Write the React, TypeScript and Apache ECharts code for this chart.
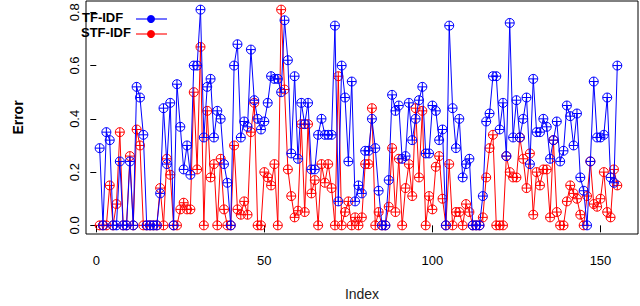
import React, { useEffect, useRef } from "react";
import * as echarts from "echarts";

const tfidf: number[] = [
  0.29, 0, 0.35, 0.32, 0, 0, 0.24, 0, 0, 0.24,
  0, 0.52, 0.48, 0.34, 0, 0, 0, 0, 0.12, 0.44,
  0.23, 0.46, 0, 0.53, 0.37, 0.21, 0.30, 0.19, 0.60, 0.60,
  0.81, 0.33, 0.52, 0.55, 0.33, 0.43, 0.40, 0.23, 0.16, 0,
  0.60, 0.68, 0.33, 0.39, 0.37, 0.66, 0.47, 0.40, 0.36, 0.39,
  0.46, 0.56, 0.55, 0.55, 0.50, 0.77, 0.62, 0.27, 0.56, 0.25,
  0.46, 0.38, 0.46, 0.21, 0.21, 0.34, 0.40, 0.34, 0.34, 0.34,
  0.75, 0.09, 0.60, 0.48, 0.24, 0.54, 0.09, 0.15, 0.12, 0.28,
  0.28, 0.40, 0.29, 0.13, 0, 0, 0.17, 0.49, 0.43, 0.45,
  0.25, 0.26, 0.46, 0.32, 0.40, 0.47, 0.52, 0.27, 0.27, 0.45,
  0.43, 0.32, 0.36, 0, 0.75, 0.44, 0.29, 0.40, 0.18, 0.23,
  0.25, 0, 0, 0, 0.11, 0.39, 0.42, 0.56, 0.56, 0.36,
  0.46, 0.26, 0.76, 0.33, 0.47, 0.33, 0.40, 0.48, 0.23, 0.55,
  0.35, 0.35, 0.40, 0.37, 0.25, 0.32, 0.39, 0.24, 0.28, 0.45,
  0.41, 0.30, 0.42, 0.18, 0.13, 0, 0.24, 0.54, 0.33, 0.33,
  0.34, 0.48, 0.18, 0.16, 0.60,
];

const stfidf: number[] = [
  0, 0, 0, 0.15, 0, 0.08, 0.35, 0, 0, 0.26,
  0, 0.36, 0.30, 0, 0, 0, 0, 0, 0.14, 0,
  0.25, 0.19, 0, 0, 0.06, 0.085, 0.06, 0.06, 0.50, 0.21,
  0.67, 0, 0.43, 0.18, 0.23, 0, 0.25, 0.06, 0, 0,
  0.30, 0.06, 0.04, 0.09, 0.04, 0.35, 0.46, 0, 0, 0.20,
  0.18, 0.15, 0.23, 0, 0.81, 0.51, 0.21, 0.11, 0.03, 0.055,
  0.38, 0.05, 0.38, 0.12, 0.17, 0, 0.23, 0.16, 0.23, 0.14,
  0, 0.56, 0, 0.05, 0.09, 0, 0.03, 0, 0.03, 0.23,
  0.23, 0.44, 0, 0.05, 0, 0, 0.07, 0.29, 0.05, 0.25,
  0, 0.14, 0.23, 0.11, 0.44, 0.18, 0.43, 0, 0.11, 0.06,
  0.22, 0.26, 0.10, 0, 0.23, 0, 0.05, 0.05, 0, 0.08,
  0.05, 0, 0, 0, 0.03, 0.18, 0.29, 0.34, 0, 0,
  0, 0.26, 0.20, 0.18, 0.18, 0.33, 0.25, 0.14, 0.27, 0.04,
  0.20, 0.15, 0.21, 0.21, 0.03, 0.32, 0.05, 0, 0, 0.09,
  0.15, 0.12, 0.10, 0.04, 0, 0.11, 0.24, 0.08, 0.07, 0.10,
  0.20, 0.05, 0.03, 0.21, 0.15,
];

const xTicks = [0, 50, 100, 150];
const yTicks = [0, 0.2, 0.4, 0.6, 0.8];
const seriesNames = ["TF-IDF", "STF-IDF"];
const seriesColors = ["#0000ff", "#ff0000"];

const CIRCLE_PLUS =
  "path://M0,-10A10,10,0,1,1,0,10A10,10,0,1,1,0,-10ZM-10,0L10,0M0,-10L0,10";

export default function App() {
  const ref = useRef<HTMLDivElement>(null);
  useEffect(() => {
    if (!ref.current) return;
    const chart = echarts.init(ref.current, null, { renderer: "svg" });
    const font = "'Liberation Sans', Arial, sans-serif";
    const mk = (name: string, vals: number[], color: string, z: number) => ({
      name,
      type: "line",
      data: vals.map((v, i) => [i + 1, v]),
      symbol: CIRCLE_PLUS,
      symbolSize: 9,
      z,
      lineStyle: { color, width: 1 },
      itemStyle: { color: "rgba(255,255,255,0)", borderColor: color, borderWidth: 1 },
      emphasis: { disabled: true },
    });
    chart.setOption({
      animation: false,
      backgroundColor: "#ffffff",
      grid: {
        left: 86,
        right: 2,
        top: 1,
        bottom: 62,
        show: true,
        borderColor: "#000",
        borderWidth: 1,
        backgroundColor: "transparent",
      },
      xAxis: {
        type: "value",
        min: -3.06,
        max: 161.16,
        name: "Index",
        nameLocation: "middle",
        nameGap: 53,
        nameTextStyle: { fontFamily: font, fontSize: 14, color: "#222" },
        axisLine: { show: false },
        axisTick: { show: true, length: 7, customValues: xTicks, lineStyle: { color: "#000" } },
        axisLabel: {
          customValues: xTicks,
          fontFamily: font,
          fontSize: 13,
          color: "#000",
          margin: 20,
        },
        splitLine: { show: false },
      },
      yAxis: {
        type: "value",
        min: -0.0324,
        max: 0.8424,
        name: "Error",
        nameLocation: "middle",
        nameGap: 61,
        nameTextStyle: { fontFamily: font, fontSize: 14, fontWeight: "bold", color: "#000" },
        axisLine: { show: false },
        axisTick: { show: true, length: 6, customValues: yTicks, lineStyle: { color: "#000" } },
        axisLabel: {
          customValues: yTicks,
          rotate: 90,
          fontFamily: font,
          fontSize: 13,
          color: "#000",
          margin: 5,
          formatter: (v: number) => v.toFixed(1),
        },
        splitLine: { show: false },
      },
      graphic: [
        { type: "text", left: 82, top: 11, style: { text: seriesNames[0], font: `bold 13px ${font}`, fill: "#000" } },
        { type: "text", left: 81, top: 26, style: { text: seriesNames[1], font: `bold 13px ${font}`, fill: "#000" } },
        { type: "line", shape: { x1: 136, y1: 19, x2: 167, y2: 19 }, style: { stroke: seriesColors[0], lineWidth: 2, opacity: 0.55 } },
        { type: "circle", shape: { cx: 151, cy: 19, r: 4 }, style: { fill: seriesColors[0] } },
        { type: "line", shape: { x1: 136, y1: 34, x2: 167, y2: 34 }, style: { stroke: seriesColors[1], lineWidth: 2, opacity: 0.55 } },
        { type: "circle", shape: { cx: 151, cy: 34, r: 4 }, style: { fill: seriesColors[1] } },
      ],
      series: [
        mk(seriesNames[1], stfidf, seriesColors[1], 2),
        mk(seriesNames[0], tfidf, seriesColors[0], 3),
      ],
    });
    return () => chart.dispose();
  }, []);
  return <div ref={ref} style={{ width: 640, height: 306, position: "absolute", left: 0, top: 0 }} />;
}
